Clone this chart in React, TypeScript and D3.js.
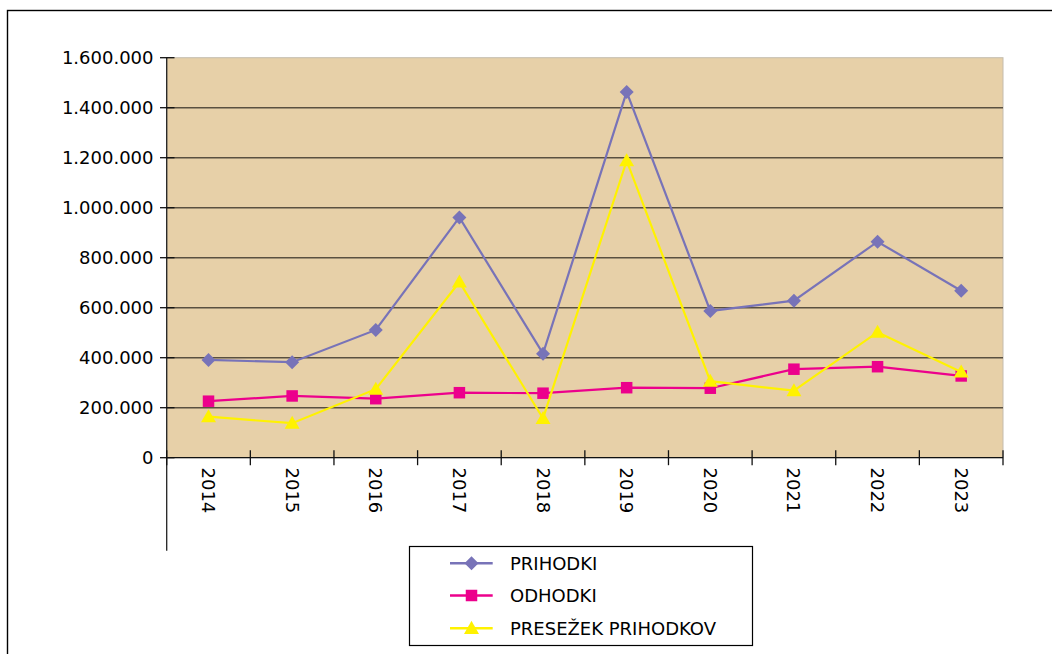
import React from "react";
import * as d3 from "d3";

const years = ["2014", "2015", "2016", "2017", "2018", "2019", "2020", "2021", "2022", "2023"];
const prihodki = [391000, 382000, 511000, 961000, 416000, 1463000, 587000, 628000, 864000, 668000];
const odhodki = [226000, 247000, 236000, 260000, 258000, 280000, 278000, 354000, 364000, 327000];
const presezek = [164000, 138000, 274000, 703000, 157000, 1188000, 306000, 268000, 502000, 343000];
const yTicks = [0, 200000, 400000, 600000, 800000, 1000000, 1200000, 1400000, 1600000];
const seriesNames = ["PRIHODKI", "ODHODKI", "PRESEŽEK PRIHODKOV"];

const W = 1052;
const H = 654;
const plot = { left: 166.7, right: 1003, top: 57.7, bottom: 457.7 };
const colors = ["#7873b8", "#ec008c", "#fff200"];
const gridColor = "#5a5040";
const bg = "#e7d0a8";
const font = "'DejaVu Sans', sans-serif";

const fmt = (v: number) =>
  v === 0 ? "0" : d3.format(",")(v).replace(/,/g, ".");

function Marker({ type, x, y, color }: { type: number; x: number; y: number; color: string }) {
  if (type === 0) {
    const r = 7;
    return <path d={`M${x},${y - r}L${x + r},${y}L${x},${y + r}L${x - r},${y}Z`} fill={color} />;
  }
  if (type === 1) {
    const s = 11.5;
    return <rect x={x - s / 2} y={y - s / 2} width={s} height={s} fill={color} />;
  }
  const s = 7.5;
  return (
    <path d={`M${x},${y - s}L${x + s},${y + s * 0.75}L${x - s},${y + s * 0.75}Z`} fill={color} />
  );
}

export default function App() {
  const x = d3.scaleBand().domain(years).range([plot.left, plot.right]).padding(0);
  const y = d3.scaleLinear().domain([0, 1600000]).range([plot.bottom, plot.top]);
  const cx = (yr: string) => (x(yr) as number) + x.bandwidth() / 2;
  const data = [prihodki, odhodki, presezek];
  const line = d3
    .line<number>()
    .x((_, i) => cx(years[i]))
    .y((v) => y(v));

  const boundaries = years.map((yr) => x(yr) as number).concat([plot.right]);

  const legend = { x: 409.5, y: 546.5, w: 343, h: 99 };
  const legendRows = [563.3, 595.5, 628.3];

  return (
    <svg
      width={W}
      height={H}
      style={{ position: "absolute", left: 0, top: 0, background: "#fff" }}
      fontFamily={font}
    >
      <rect x={7.5} y={10.5} width={1200} height={800} fill="#fff" stroke="#000" strokeWidth={1.4} />
      <rect
        x={plot.left}
        y={plot.top}
        width={plot.right - plot.left}
        height={plot.bottom - plot.top}
        fill={bg}
        stroke="#c4bcae"
        strokeWidth={1}
      />
      {yTicks.slice(1, -1).map((t) => (
        <line
          key={t}
          x1={plot.left}
          x2={plot.right}
          y1={y(t)}
          y2={y(t)}
          stroke={gridColor}
          strokeWidth={1.4}
        />
      ))}
      {/* y axis */}
      <line x1={plot.left} x2={plot.left} y1={plot.top} y2={550.7} stroke="#222" strokeWidth={1.3} />
      {yTicks.map((t) => (
        <g key={t}>
          <line x1={160} x2={174.5} y1={y(t)} y2={y(t)} stroke="#111" strokeWidth={1.3} />
          <text
            x={153.5}
            y={y(t)}
            dy="0.36em"
            textAnchor="end"
            fontSize={18}
            fill="#000"
          >
            {fmt(t)}
          </text>
        </g>
      ))}
      {/* x axis */}
      <line x1={plot.left} x2={plot.right} y1={plot.bottom} y2={plot.bottom} stroke="#111" strokeWidth={1.3} />
      {boundaries.map((b, i) => (
        <line key={i} x1={b} x2={b} y1={plot.bottom - 7.5} y2={plot.bottom + 7.5} stroke="#111" strokeWidth={1.3} />
      ))}
      {years.map((yr) => (
        <text
          key={yr}
          transform={`translate(${cx(yr)},${467.5}) rotate(90)`}
          textAnchor="start"
          dy="0.36em"
          fontSize={18}
          fill="#000"
        >
          {yr}
        </text>
      ))}
      {/* series */}
      {data.map((vals, si) => (
        <g key={si}>
          <path d={line(vals) as string} fill="none" stroke={colors[si]} strokeWidth={2.2} />
          {vals.map((v, i) => (
            <Marker key={i} type={si} x={cx(years[i])} y={y(v)} color={colors[si]} />
          ))}
        </g>
      ))}
      {/* legend */}
      <rect
        x={legend.x}
        y={legend.y}
        width={legend.w}
        height={legend.h}
        fill="#fff"
        stroke="#000"
        strokeWidth={1.2}
      />
      {seriesNames.map((name, i) => (
        <g key={name}>
          <line x1={450} x2={492.7} y1={legendRows[i]} y2={legendRows[i]} stroke={colors[i]} strokeWidth={2.4} />
          <Marker type={i} x={471.5} y={legendRows[i]} color={colors[i]} />
          <text x={510} y={legendRows[i]} dy="0.36em" fontSize={18} fill="#000">
            {name}
          </text>
        </g>
      ))}
    </svg>
  );
}
